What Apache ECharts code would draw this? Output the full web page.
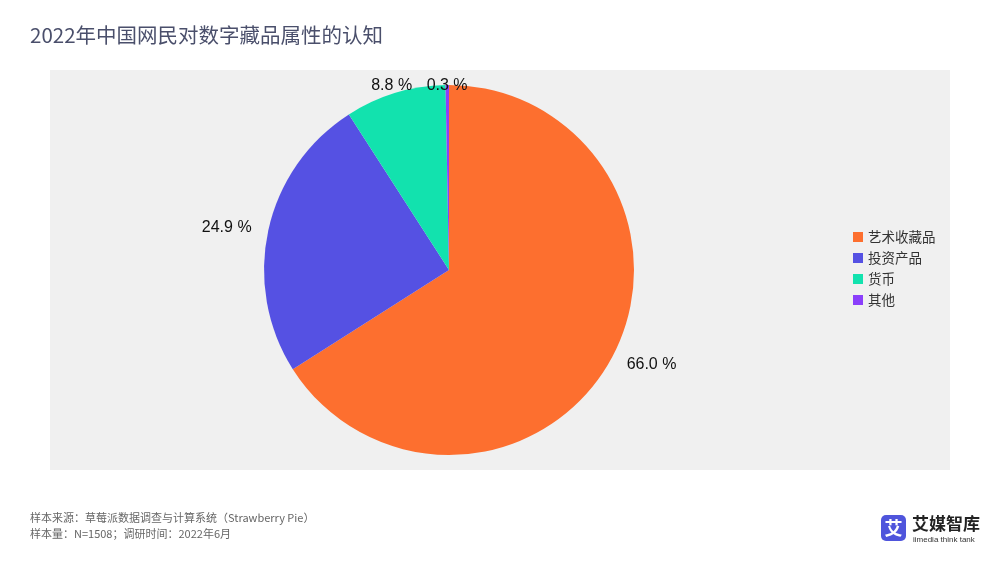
<!DOCTYPE html>
<html><head><meta charset="utf-8">
<script src="https://cdn.jsdelivr.net/npm/echarts@6/dist/echarts.min.js"></script>
<style>html,body{margin:0;padding:0;background:#fff}#c{width:1000px;height:563px}</style>
</head><body><div id="c"></div>
<script>
const categories = ['艺术收藏品', '投资产品', '货币', '其他'];
const values = [66.0, 24.9, 8.8, 0.3];
const colors = ['#fd6f2f', '#5551e3', '#12e2ae', '#8b3ffb'];
const titleText = '2022年中国网民对数字藏品属性的认知';
const footer1 = '样本来源：草莓派数据调查与计算系统（Strawberry Pie）';
const footer2 = '样本量：N=1508；调研时间：2022年6月';

const plotTop = 70;
const pieCenter = [449, 270];

const chart = echarts.init(document.getElementById('c'), null, {renderer: 'canvas'});
chart.setOption({
  backgroundColor: '#ffffff',
  animation: false,
  title: {
    text: titleText, left: 25, top: 20,
    textStyle: {fontSize: 20.5, fontWeight: 'normal', color: '#4a4f6b', fontFamily: 'Noto Sans CJK SC'}
  },
  legend: {
    orient: 'vertical', left: 848, top: 225,
    itemWidth: 10, itemHeight: 10, itemGap: 7, icon: 'rect',
    textStyle: {fontSize: 13.5, lineHeight: 14, color: '#333', fontFamily: 'Noto Sans CJK SC'},
    data: categories
  },
  graphic: [
    {type: 'rect', z: -10, shape: {x: 50, y: plotTop, width: 900, height: 400}, style: {fill: '#f0f0f0'}},
    {type: 'text', left: 30, top: 512, style: {text: footer1, fontSize: 11, fill: '#666', fontFamily: 'Noto Sans CJK SC'}},
    {type: 'text', left: 30, top: 528, style: {text: footer2, fontSize: 11, fill: '#666', fontFamily: 'Noto Sans CJK SC'}},
    {type: 'rect', shape: {x: 881, y: 515, width: 25, height: 26, r: 5}, style: {fill: '#4f55dc'}},
    {type: 'text', x: 893.5, y: 528, style: {text: '艾', fontSize: 18, fontWeight: 'bold', fill: '#fff', align: 'center', verticalAlign: 'middle', fontFamily: 'Noto Sans CJK SC'}},
    {type: 'text', x: 912, y: 524, style: {text: '艾媒智库', fontSize: 17, fontWeight: 'bold', fill: '#222', verticalAlign: 'middle', fontFamily: 'Noto Sans CJK SC'}},
    {type: 'text', x: 913, y: 540, style: {text: 'iimedia think tank', fontSize: 8, fill: '#333', verticalAlign: 'middle', fontFamily: 'Liberation Sans'}}
  ],
  series: [{
    type: 'pie',
    center: pieCenter,
    radius: 185,
    startAngle: 90,
    clockwise: true,
    avoidLabelOverlap: false,
    color: colors,
    label: {
      show: true, position: 'outside',
      formatter: p => p.value.toFixed(1) + ' %',
      fontSize: 16, color: '#111', fontFamily: 'Liberation Sans'
    },
    labelLine: {show: false, length: 12, length2: 0},
    labelLayout: function (p) {
      const pts = p.labelLinePoints;
      const r = p.labelRect;
      if (!pts) return {};
      const a = pts[pts.length - 1];
      const dx = a[0] - pieCenter[0], dy = a[1] - pieCenter[1];
      // labels near the top of the pie: centred above the anchor, kept inside the plot area
      if (dy < 0 && Math.abs(dy) > 2 * Math.abs(dx)) {
        const minCenter = plotTop + 8 + r.height / 2;
        return {x: a[0], y: Math.max(a[1] - r.height / 2, minCenter), align: 'center', verticalAlign: 'middle'};
      }
      return {};
    },
    itemStyle: {borderWidth: 0},
    data: categories.map((n, i) => ({name: n, value: values[i]}))
  }]
});
</script></body></html>
